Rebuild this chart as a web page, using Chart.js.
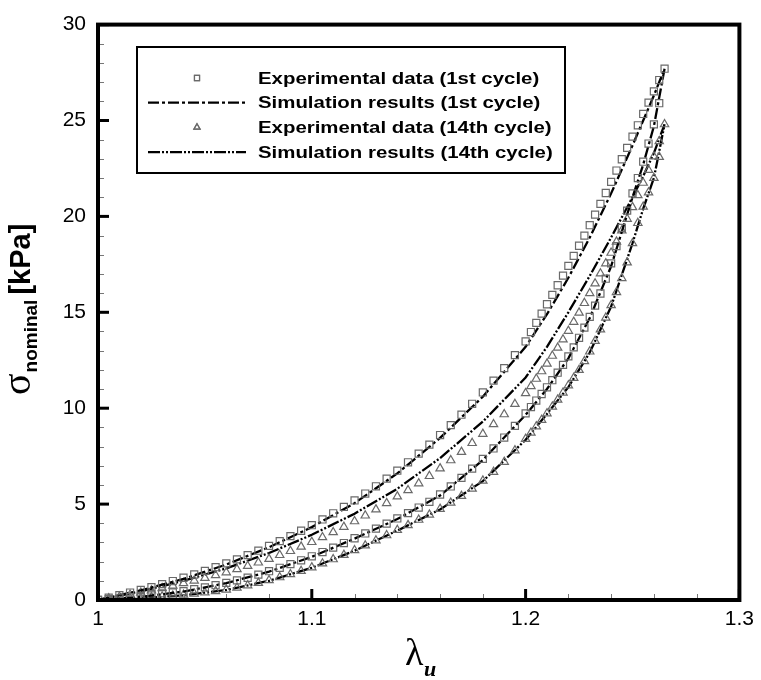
<!DOCTYPE html>
<html>
<head>
<meta charset="utf-8">
<script src="https://cdn.jsdelivr.net/npm/chart.js@4.4.0/dist/chart.umd.min.js"></script>
<style>
  html, body { margin: 0; padding: 0; background: #fff; }
  #wrap { width: 761px; height: 680px; }
</style>
</head>
<body>
<div id="wrap"><canvas id="stressChart" width="761" height="680"></canvas></div>
<script>
  // stretch values shared by all experimental branches
  const lamExp = [
    1.000, 1.005, 1.010, 1.015, 1.020, 1.025, 1.030, 1.035, 1.040, 1.045,
    1.050, 1.055, 1.060, 1.065, 1.070, 1.075, 1.080, 1.085, 1.090, 1.095,
    1.100, 1.105, 1.110, 1.115, 1.120, 1.125, 1.130, 1.135, 1.140, 1.145,
    1.150, 1.155, 1.160, 1.165, 1.170, 1.175, 1.180, 1.185, 1.190, 1.195,
    1.200, 1.2025, 1.205, 1.2075, 1.210, 1.2125, 1.215, 1.2175, 1.220, 1.2225,
    1.225, 1.2275, 1.230, 1.2325, 1.235, 1.2375, 1.240, 1.2425, 1.245, 1.2475,
    1.250, 1.2525, 1.255, 1.2575, 1.260, 1.2625, 1.265
  ];

  // 1st cycle experiment (squares)
  const sqLoad = [
    0, 0.12, 0.25, 0.39, 0.53, 0.67, 0.83, 0.99, 1.16, 1.33,
    1.52, 1.71, 1.91, 2.12, 2.34, 2.57, 2.82, 3.07, 3.33, 3.61,
    3.90, 4.20, 4.52, 4.85, 5.19, 5.55, 5.93, 6.33, 6.74, 7.18,
    7.63, 8.10, 8.60, 9.12, 9.66, 10.23, 10.82, 11.44, 12.09, 12.77,
    13.48, 13.97, 14.45, 14.93, 15.42, 15.91, 16.41, 16.91, 17.42, 17.94,
    18.47, 19.00, 19.54, 20.09, 20.65, 21.22, 21.80, 22.39, 22.98, 23.57,
    24.16, 24.75, 25.34, 25.93, 26.52, 27.11, 27.70
  ];
  const sqUnload = [
    0, 0.04, 0.09, 0.15, 0.21, 0.28, 0.35, 0.40, 0.46, 0.56,
    0.66, 0.77, 0.89, 1.02, 1.16, 1.32, 1.50, 1.68, 1.87, 2.07,
    2.28, 2.50, 2.73, 2.97, 3.22, 3.47, 3.72, 3.98, 4.25, 4.53,
    4.82, 5.12, 5.50, 5.92, 6.37, 6.85, 7.36, 7.90, 8.47, 9.08,
    9.73, 10.06, 10.40, 10.74, 11.09, 11.46, 11.85, 12.26, 12.70, 13.17,
    13.67, 14.20, 14.76, 15.35, 15.98, 16.75, 17.55, 18.45, 19.40, 20.30,
    21.20, 22.00, 22.85, 23.80, 24.80, 25.90, 27.70
  ];

  // 14th cycle experiment (triangles)
  const triLoad = [
    0, 0.08, 0.17, 0.27, 0.38, 0.49, 0.61, 0.74, 0.87, 1.01,
    1.15, 1.29, 1.44, 1.60, 1.77, 1.95, 2.14, 2.34, 2.55, 2.78,
    3.02, 3.27, 3.53, 3.81, 4.10, 4.40, 4.72, 5.05, 5.40, 5.72,
    6.08, 6.46, 6.86, 7.28, 7.72, 8.18, 8.66, 9.16, 9.68, 10.22,
    10.78, 11.15, 11.53, 11.92, 12.32, 12.73, 13.15, 13.58, 14.03, 14.50,
    14.98, 15.48, 15.99, 16.50, 17.02, 17.55, 18.10, 18.68, 19.27, 19.87,
    20.48, 21.10, 21.75, 22.42, 23.12, 23.92, 24.80
  ];
  const triUnload = [
    0, 0.02, 0.05, 0.08, 0.11, 0.14, 0.18, 0.22, 0.27, 0.33,
    0.39, 0.46, 0.54, 0.64, 0.76, 0.89, 1.03, 1.18, 1.34, 1.51,
    1.70, 1.90, 2.12, 2.35, 2.59, 2.84, 3.10, 3.37, 3.65, 3.90,
    4.18, 4.45, 4.75, 5.07, 5.42, 5.80, 6.22, 6.68, 7.20, 7.80,
    8.40, 8.72, 9.05, 9.39, 9.73, 10.08, 10.44, 10.81, 11.19, 11.58,
    11.99, 12.45, 12.95, 13.50, 14.10, 14.72, 15.37, 16.05, 16.78, 17.60,
    18.60, 19.65, 20.50, 21.25, 22.00, 23.10, 24.80
  ];

  // simulation curves
  const lamSim = [1.00, 1.02, 1.04, 1.06, 1.08, 1.10, 1.12, 1.14, 1.16, 1.18,
                  1.20, 1.21, 1.22, 1.23, 1.24, 1.25, 1.255, 1.26, 1.265];
  const sim1Load    = [0, 0.50, 1.10, 1.85, 2.75, 3.80, 5.05, 6.60, 8.45, 10.6,
                       13.2, 14.9, 16.8, 18.9, 21.2, 23.7, 25.0, 26.3, 27.7];
  const sim1Unload  = [0, 0.16, 0.44, 0.88, 1.48, 2.25, 3.20, 4.22, 5.45, 7.30,
                       9.65, 11.0, 12.6, 14.7, 17.4, 21.0, 22.7, 24.7, 27.7];
  const sim14Load   = [0, 0.45, 1.00, 1.65, 2.45, 3.40, 4.50, 5.80, 7.40, 9.30,
                       11.6, 13.2, 15.0, 16.9, 18.9, 21.0, 22.1, 23.3, 24.8];
  const sim14Unload = [0, 0.10, 0.24, 0.52, 1.00, 1.68, 2.57, 3.62, 4.72, 6.20,
                       8.35, 9.70, 11.1, 12.9, 15.3, 18.6, 20.4, 22.0, 24.8];

  const xTicks = [1, 1.1, 1.2, 1.3];
  const yTicks = [0, 5, 10, 15, 20, 25, 30];

  // loading branch up, then unloading branch back down
  function loop(lam, up, down) {
    const pts = lam.map((x, i) => ({ x: x, y: up[i] }));
    for (let i = lam.length - 2; i >= 0; i--) pts.push({ x: lam[i], y: down[i] });
    return pts;
  }

  const markerGray = '#6a6a6a';

  // inward tick marks and the plot frame
  const framePlugin = {
    id: 'framePlugin',
    afterDatasetsDraw(chart) {
      const { ctx, chartArea: a, scales: { x, y } } = chart;
      ctx.save();
      ctx.strokeStyle = '#777';
      ctx.lineWidth = 1;
      for (let v = 1; v < 30; v++) {
        if (v % 5 === 0) continue;
        const py = Math.round(y.getPixelForValue(v)) + 0.5;
        ctx.beginPath(); ctx.moveTo(a.left, py); ctx.lineTo(a.left + 6, py); ctx.stroke();
      }
      for (let k = 1; k < 15; k++) {
        if (k % 5 === 0) continue;
        const px = Math.round(x.getPixelForValue(1 + k * 0.02)) + 0.5;
        ctx.beginPath(); ctx.moveTo(px, a.bottom); ctx.lineTo(px, a.bottom - 6); ctx.stroke();
      }
      ctx.strokeStyle = '#000';
      ctx.lineWidth = 3;
      yTicks.forEach(v => {
        const py = y.getPixelForValue(v);
        ctx.beginPath(); ctx.moveTo(a.left, py); ctx.lineTo(a.left + 11, py); ctx.stroke();
      });
      xTicks.forEach(v => {
        const px = x.getPixelForValue(v);
        ctx.beginPath(); ctx.moveTo(px, a.bottom); ctx.lineTo(px, a.bottom - 11); ctx.stroke();
      });
      ctx.lineWidth = 4;
      ctx.strokeRect(a.left, a.top, a.right - a.left, a.bottom - a.top);
      ctx.restore();
    }
  };

  // axis titles with greek letters and subscripts
  const titlePlugin = {
    id: 'titlePlugin',
    afterDraw(chart) {
      const ctx = chart.ctx;
      ctx.save();
      ctx.fillStyle = '#000';
      ctx.textBaseline = 'alphabetic';
      ctx.textAlign = 'left';

      // x title
      ctx.font = '38px "Liberation Serif"';
      ctx.fillText('λ', 405, 665);
      ctx.font = 'bold italic 22px "Liberation Serif"';
      ctx.fillText('u', 424, 676);

      // y title, rotated
      ctx.translate(30, 395);
      ctx.rotate(-Math.PI / 2);
      ctx.font = '40px "Liberation Serif"';
      ctx.fillText('σ', 0, 0);
      let w = ctx.measureText('σ').width;
      ctx.font = 'bold 19px "Liberation Sans"';
      ctx.fillText('nominal', w + 1, 7);
      w += 1 + ctx.measureText('nominal').width + 5;
      ctx.font = 'bold 29px "Liberation Sans"';
      ctx.fillText('[kPa]', w, 0);
      ctx.restore();
    }
  };

  // framed legend inside the plot
  const legendPlugin = {
    id: 'legendPlugin',
    afterDraw(chart) {
      const ctx = chart.ctx;
      const box = { left: 137, top: 47, right: 565, bottom: 173 };
      ctx.save();
      ctx.fillStyle = '#fff';
      ctx.fillRect(box.left, box.top, box.right - box.left, box.bottom - box.top);
      ctx.strokeStyle = '#000';
      ctx.lineWidth = 2;
      ctx.strokeRect(box.left, box.top, box.right - box.left, box.bottom - box.top);

      chart.data.datasets.forEach((ds, i) => {
        const cy = 78 + i * 24.7;
        if (ds.showLine) {
          ctx.strokeStyle = ds.borderColor;
          ctx.lineWidth = ds.borderWidth;
          ctx.setLineDash(ds.borderDash);
          ctx.beginPath(); ctx.moveTo(148, cy); ctx.lineTo(246, cy); ctx.stroke();
          ctx.setLineDash([]);
        } else {
          ctx.strokeStyle = ds.pointBorderColor;
          ctx.lineWidth = ds.pointBorderWidth;
          Chart.helpers.drawPoint(ctx, { pointStyle: ds.pointStyle, radius: 3.6, borderWidth: ds.pointBorderWidth, rotation: 0 }, 197, cy);
          ctx.stroke();
        }
        ctx.save();
        ctx.fillStyle = '#000';
        ctx.font = 'bold 17px "Liberation Sans"';
        ctx.textBaseline = 'middle';
        ctx.translate(258, cy + 1);
        ctx.scale(1.2, 1);
        ctx.fillText(ds.label, 0, 0);
        ctx.restore();
      });
      ctx.restore();
    }
  };

  new Chart(document.getElementById('stressChart'), {
    type: 'scatter',
    data: {
      datasets: [{
        label: 'Experimental data (1st cycle)',
        data: loop(lamExp, sqLoad, sqUnload),
        showLine: false,
        pointStyle: 'rect',
        pointRadius: 5,
        pointBorderWidth: 1.2,
        pointBorderColor: markerGray,
        pointBackgroundColor: 'rgba(255,255,255,0)'
      }, {
        label: 'Simulation results (1st cycle)',
        data: loop(lamSim, sim1Load, sim1Unload),
        showLine: true,
        pointRadius: 0,
        borderColor: '#000',
        borderWidth: 2.3,
        borderDash: [11, 3, 3, 3],
        tension: 0,
        fill: false
      }, {
        label: 'Experimental data (14th cycle)',
        data: loop(lamExp, triLoad, triUnload),
        showLine: false,
        pointStyle: 'triangle',
        pointRadius: 4.8,
        pointBorderWidth: 1.2,
        pointBorderColor: markerGray,
        pointBackgroundColor: 'rgba(255,255,255,0)'
      }, {
        label: 'Simulation results (14th cycle)',
        data: loop(lamSim, sim14Load, sim14Unload),
        showLine: true,
        pointRadius: 0,
        borderColor: '#000',
        borderWidth: 2.3,
        borderDash: [12, 2, 2, 2, 2, 2],
        tension: 0,
        fill: false
      }]
    },
    options: {
      responsive: false,
      animation: false,
      layout: { padding: { top: 14, right: 18, left: 0, bottom: 0 } },
      plugins: { legend: { display: false }, tooltip: { enabled: false } },
      scales: {
        x: {
          type: 'linear', min: 1, max: 1.3,
          grid: { display: false, drawTicks: false },
          border: { display: false },
          afterBuildTicks: s => { s.ticks = xTicks.map(v => ({ value: v })); },
          afterFit: s => { s.height = 80; },
          ticks: {
            padding: 7, color: '#000', maxRotation: 0,
            font: { family: '"Liberation Sans", Arial', size: 21 },
            callback: v => String(Number(v.toFixed(1)))
          }
        },
        y: {
          type: 'linear', min: 0, max: 30,
          grid: { display: false, drawTicks: false },
          border: { display: false },
          afterBuildTicks: s => { s.ticks = yTicks.map(v => ({ value: v })); },
          afterFit: s => { s.width = 98; },
          ticks: {
            padding: 12, color: '#000',
            font: { family: '"Liberation Sans", Arial', size: 21 }
          }
        }
      }
    },
    plugins: [framePlugin, legendPlugin, titlePlugin]
  });
</script>
</body>
</html>
